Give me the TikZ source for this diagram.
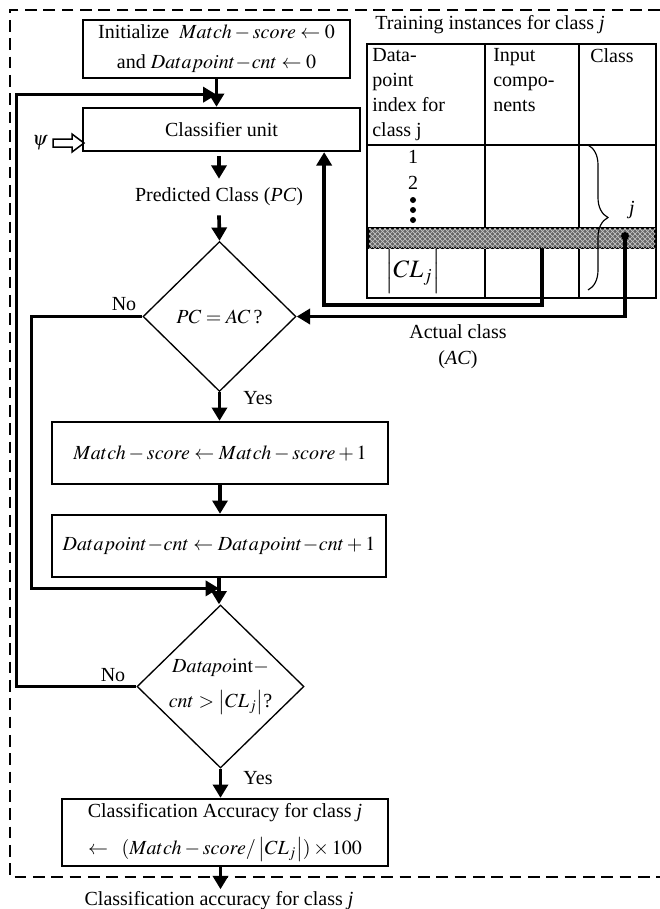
\documentclass[tikz,border=0pt]{standalone}
\usepackage{mathptmx}
\usepackage{fontspec}
\setmainfont{Liberation Serif}
\usetikzlibrary{arrows.meta, positioning, shapes.geometric, decorations.pathreplacing, patterns, calc}

\begin{document}
\begin{tikzpicture}[x=0.6pt, y=-0.6pt, font=\fontsize{12}{15}\selectfont,
      box/.style={draw, line width=1.4pt, inner sep=1pt, align=center},
      decision/.style={draw, diamond, line width=0.8pt, inner sep=0pt, align=center},
      flow/.style={-{Triangle[length=8pt,width=9pt]}, line width=2.2pt},
      grid/.style={line width=1.3pt}]
    \useasboundingbox (0,0) rectangle (660,909);

    % main column
    \node[box, minimum width=160.2pt, minimum height=34.8pt] (init) at (216.5,49)
          {Initialize\ \ $Match-score\leftarrow0$\\[3pt] and $Datapoint\!-\!cnt\leftarrow0$};
    \node[box, minimum width=166.2pt, minimum height=25.8pt] (cls) at (221.5,129.5) {Classifier unit};
    \node (pc) at (219,197) {Predicted Class (\textit{PC})};
    \node[decision, minimum width=91.8pt, minimum height=90pt] (d1) at (219.5,316.5) {$PC=AC$\,?};
    \node[box, minimum width=201.6pt, minimum height=37.2pt] (inc1) at (220,453)
          {$Match-score\leftarrow Match-score+1$};
    \node[box, minimum width=200.4pt, minimum height=37.2pt] (inc2) at (219,546)
          {$Datapoint\!-\!cnt\leftarrow Datapoint\!-\!cnt+1$};
    \node[decision, minimum width=100.2pt, minimum height=97.8pt] (d2) at (220.5,686.5)
          {$\mathit{Datapo}\mathrm{int}-$\\[6pt]$cnt>\left|CL_j\right|$?};
    \node[box, minimum width=195.6pt, minimum height=40.2pt] (acc) at (225,832.5)
          {Classification Accuracy for class \textit{j}\\[7pt]
           $\leftarrow\;\;(Match-score/\left|CL_j\right|)\times100$};
    \node (out) at (219,901) {Classification accuracy for class \textit{j}};

    \node (no1)  at (124,304) {No};
    \node (yes1) at (258,398) {Yes};
    \node (no2)  at (113,675) {No};
    \node (yes2) at (258,778) {Yes};
    \node (psi)  at (40,143) {$\psi$};
    \draw[line width=0.9pt] (53,139) -- (72,139) -- (72,134) -- (84,143) -- (72,152) -- (72,147) -- (53,147) -- cycle;

    % table of training instances
    \node (ttl) at (490,25) {Training instances for class \textit{j}};
    \draw[grid] (367,44) rectangle (656,298);
    \draw[grid] (485,44) -- (485,298) (579,44) -- (579,298) (367,145) -- (656,145);
    \node[anchor=north west, align=left, inner sep=0] (hd1) at (372,48) {Data-\\point\\index for\\class j};
    \node[anchor=north west, align=left, inner sep=0] (hd2) at (493,48) {Input\\compo-\\nents};
    \node[anchor=north west, inner sep=0] (hd3) at (590,48) {Class};
    \node (r1) at (413,157) {1};
    \node (r2) at (413,183) {2};
    \foreach \y in {200,210,220}
      \fill (413,\y) circle[radius=3];
    \node[font=\fontsize{15}{18}\selectfont] (rn) at (413,271) {$\left|\rule[-8pt]{0pt}{24pt}CL_j\right|$};
    \node[draw, line width=1.4pt, fill=black!60, inner sep=0, minimum width=171.6pt, minimum height=12pt,
          postaction={pattern=crosshatch, pattern color=gray!45}] (bar) at (512,238) {};
    \draw[decorate, decoration={brace, amplitude=12pt}, line width=0.7pt] (588,145) -- (588,290);
    \node (jj) at (632,210) {\textit{j}};
    \coordinate (inp) at (542,248);
    \coordinate (acd) at (625,236);
    \fill (acd) circle[radius=4];
    \node[align=center, font=\fontsize{12}{15.6}\selectfont] (act) at (458,347) {Actual class\\(\textit{AC})};

    % connectors
    \coordinate (j1) at ($(init.south)!0.56!(init.south |- cls.north)$);
    \coordinate (j2) at ($(inc2.south)!0.39!(inc2.south |- d2.north)$);
    \draw[flow] (init.south) -- (init.south |- cls.north);
    \draw[flow] ([yshift=-2.4pt]cls.south -| pc.north) -- ([yshift=2pt]pc.north);
    \draw[flow] ([yshift=-2pt]pc.south) -- (d1.north);
    \draw[flow] (d1.south) -- (d1.south |- inc1.north);
    \draw[flow] (inc1.south) -- (inc1.south |- inc2.north);
    \draw[flow] (inc2.south) -- (inc2.south |- d2.north);
    \draw[flow] (d2.south) -- (d2.south |- acc.north);
    \draw[flow] (acc.south -| d2.south) -- ([yshift=-2pt]out.north -| d2.south);
    \draw[flow] (d1.west) -- ++(-111,0) |- (j2);
    \draw[flow] (d2.west) -- ++(-120,0) |- (j1);
    \draw[flow] (inp) -- ++(0,57) -| ([xshift=-22.2pt]cls.south east);
    \draw[flow] (acd) |- (d1.east);

    % dashed frame
    \draw[line width=1.2pt, dash pattern=on 7pt off 4pt] (660,10) -- (10,10) -- (10,877) -- (660,877);
\end{tikzpicture}
\end{document}
